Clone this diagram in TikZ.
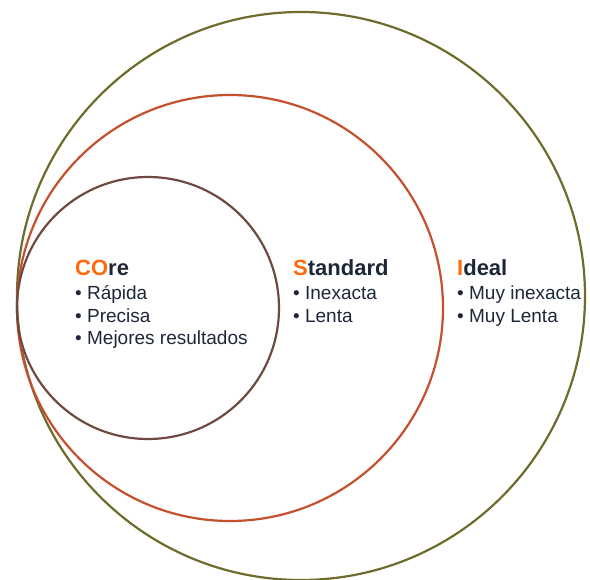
\documentclass[tikz,border=0pt]{standalone}
\usepackage{fontspec}
\setmainfont{Liberation Sans}
\definecolor{olivec}{HTML}{6E6B2C}
\definecolor{redc}{HTML}{C4502E}
\definecolor{brownc}{HTML}{6E4A42}
\definecolor{orangec}{HTML}{FF6A0A}
\definecolor{txtc}{HTML}{1E2738}
\begin{document}
\begin{tikzpicture}[x=1pt,y=-1pt,
  ring/.style={line width=2.2pt},
  head/.style={anchor=base west,inner sep=0pt,text=txtc,font=\fontsize{22}{26}\selectfont\bfseries},
  item/.style={anchor=base west,inner sep=0pt,text=txtc,font=\fontsize{19}{22}\selectfont}]
\useasboundingbox (0,0) rectangle (590,580);
\draw[ring,olivec] (301,296) circle[radius=284];
\draw[ring,redc] (230,308) circle[radius=213];
\draw[ring,brownc] (148,308) circle[radius=131];
% Core
\node[head] (coreh) at (75,276) {\textcolor{orangec}{CO}re};
\node[item] (core1) at (75,300) {• Rápida};
\node[item] (core2) at (75,322.5) {• Precisa};
\node[item] (core3) at (75,345) {• Mejores resultados};
% Standard
\node[head] (stdh) at (293,276) {\textcolor{orangec}{S}tandard};
\node[item] (std1) at (293,300) {• Inexacta};
\node[item] (std2) at (293,322.5) {• Lenta};
% Ideal
\node[head] (idh) at (457,276) {\textcolor{orangec}{I}deal};
\node[item] (id1) at (457,300) {• Muy inexacta};
\node[item] (id2) at (457,322.5) {• Muy Lenta};
\end{tikzpicture}
\end{document}
